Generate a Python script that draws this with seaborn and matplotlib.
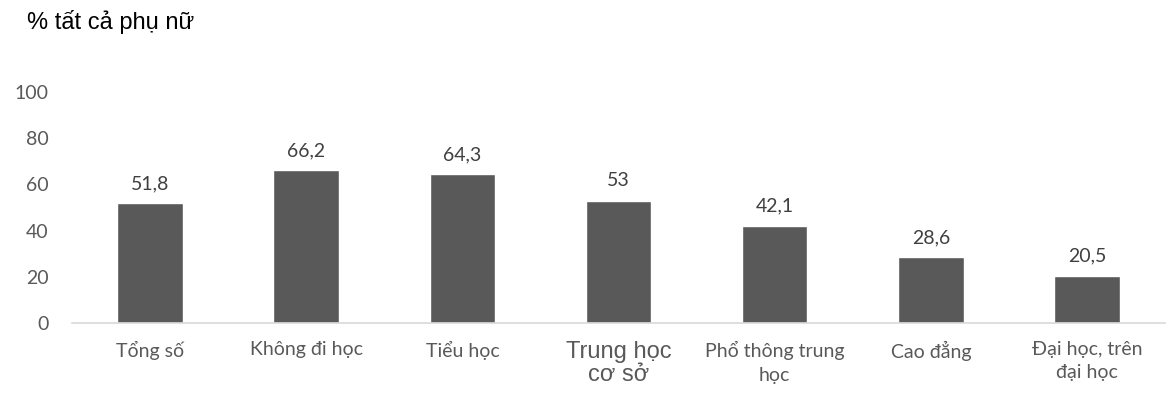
import numpy as np
import pandas as pd
import seaborn as sns
import matplotlib.pyplot as plt

# dữ liệu
categories = ['Tổng số', 'Không đi học', 'Tiểu học', 'Trung học\ncơ sở',
              'Phổ thông trung\nhọc', 'Cao đẳng', 'Đại học, trên\nđại học']
values = [51.8, 66.2, 64.3, 53, 42.1, 28.6, 20.5]
value_labels = ['51,8', '66,2', '64,3', '53', '42,1', '28,6', '20,5']
yticks = [0, 20, 40, 60, 80, 100]

df = pd.DataFrame({'cat': categories, 'val': values})

sns.set_style('white')
plt.rcParams['font.family'] = ['Lato', 'DejaVu Sans']

fig = plt.figure(figsize=(11.73, 3.96), dpi=100)
ax = fig.add_axes([0.0614, 0.184, 0.9318, 0.584])

sns.barplot(data=df, x='cat', y='val', color='#595959', width=0.42,
            saturation=1, ax=ax)

ax.set_ylim(0, 100)
ax.set_yticks(yticks)
ax.set_xlabel('')
ax.set_ylabel('')
ax.tick_params(axis='both', length=0, labelsize=14, colors='#595959')
ax.tick_params(axis='y', pad=17)
ax.tick_params(axis='x', pad=13)

for lab in ax.get_xticklabels():
    lab.set_linespacing(1.45)
    if lab.get_text().startswith('Trung'):
        lab.set_family(['Liberation Sans', 'DejaVu Sans'])
        lab.set_fontsize(17)
        lab.set_linespacing(1.05)

for p, txt in zip(ax.patches, value_labels):
    ax.annotate(txt, (p.get_x() + p.get_width() / 2, p.get_height()),
                xytext=(0, 8), textcoords='offset points',
                ha='center', va='bottom', fontsize=14, color='#404040')

for s in ['top', 'right', 'left']:
    ax.spines[s].set_visible(False)
ax.spines['bottom'].set_color('#d9d9d9')
ax.spines['bottom'].set_linewidth(1.2)

fig.text(0.023, 0.945, '% tất cả phụ nữ', fontsize=17, color='black',
         family=['Liberation Sans', 'DejaVu Sans'], va='center')

fig.savefig('out.png', dpi=100)
